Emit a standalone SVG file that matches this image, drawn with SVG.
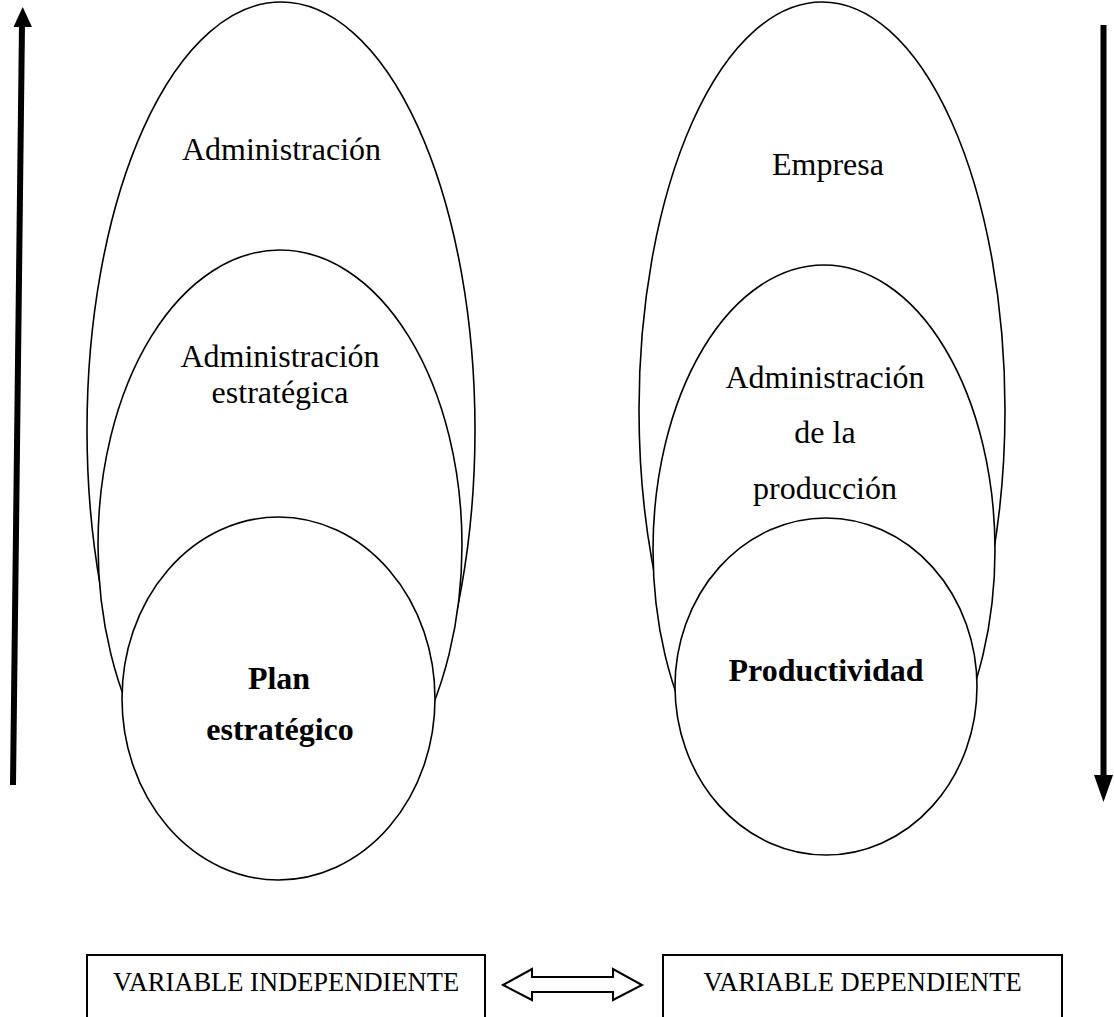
<svg xmlns="http://www.w3.org/2000/svg" width="1114" height="1017" viewBox="0 0 1114 1017">
<style>
.el{fill:#fff;stroke:#000;stroke-width:1.6}
.t{font-family:"Liberation Serif","Times New Roman",serif;font-size:32px;fill:#000;text-anchor:middle}
.b{font-weight:bold}
.bt{font-family:"Liberation Serif","Times New Roman",serif;font-size:26.5px;fill:#000;text-anchor:middle}
.box{fill:#fff;stroke:#000;stroke-width:2}
</style>
<rect width="1114" height="1017" fill="#fff"/>
<g id="connectors">
  <line x1="13" y1="785" x2="22" y2="24" stroke="#000" stroke-width="6"/>
  <polygon points="22.7,7 13.5,27 32,27" fill="#000"/>
  <line x1="1103.5" y1="25" x2="1103.5" y2="777" stroke="#000" stroke-width="6"/>
  <polygon points="1094,775 1113,775 1103.5,802" fill="#000"/>
  <polygon points="503,985 532,969 532,977 613,977 613,969 642,985 613,1000 613,992 532,992 532,1000" fill="#fff" stroke="#000" stroke-width="2" stroke-linejoin="miter"/>
</g>
<g id="left-admin">
  <ellipse class="el" cx="281" cy="430" rx="194" ry="428"/>
  <text class="t" x="281.5" y="160">Administración</text>
</g>
<g id="left-admin-estrategica">
  <ellipse class="el" cx="280" cy="545" rx="182" ry="295"/>
  <text class="t" x="280" y="367">Administración</text>
  <text class="t" x="280" y="403">estratégica</text>
</g>
<g id="plan-estrategico">
  <ellipse class="el" cx="278.5" cy="698.5" rx="156.5" ry="181.5"/>
  <text class="t b" x="279" y="689">Plan</text>
  <text class="t b" x="280" y="740">estratégico</text>
</g>
<g id="right-empresa">
  <ellipse class="el" cx="822" cy="410" rx="183" ry="408"/>
  <text class="t" x="828" y="175">Empresa</text>
</g>
<g id="right-admin-produccion">
  <ellipse class="el" cx="824" cy="550" rx="171" ry="285"/>
  <text class="t" x="825" y="388">Administración</text>
  <text class="t" x="825" y="443">de la</text>
  <text class="t" x="825" y="499">producción</text>
</g>
<g id="productividad">
  <ellipse class="el" cx="826" cy="686.5" rx="151" ry="168.5"/>
  <text class="t b" x="826" y="681">Productividad</text>
</g>
<g id="var-independiente">
  <rect class="box" x="87" y="955" width="398" height="80"/>
  <text class="bt" x="286" y="991">VARIABLE INDEPENDIENTE</text>
</g>
<g id="var-dependiente">
  <rect class="box" x="663" y="955" width="399" height="80"/>
  <text class="bt" x="862.5" y="991">VARIABLE DEPENDIENTE</text>
</g>
</svg>
